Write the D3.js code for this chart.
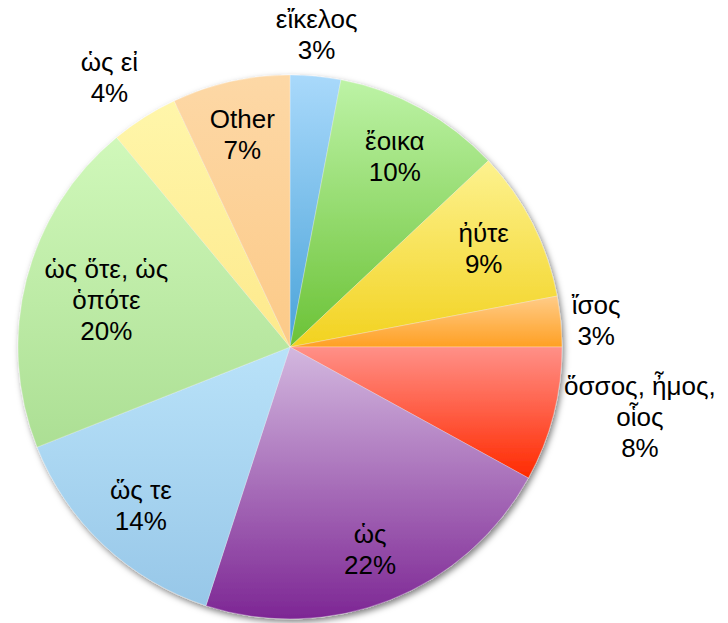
<!DOCTYPE html>
<html>
<head>
<meta charset="utf-8">
<script src="https://cdn.jsdelivr.net/npm/d3@7/dist/d3.min.js"></script>
<style>
  html, body { margin: 0; padding: 0; background: #fff; }
  svg { display: block; }
</style>
</head>
<body>
<svg id="chart" width="728" height="623"></svg>
<script>
// ---- data ----
const categories = ["εἴκελος", "ἔοικα", "ἠύτε", "ἴσος", "ὅσσος, ἦμος, οἷος",
                    "ὡς", "ὥς τε", "ὡς ὅτε, ὡς ὁπότε", "ὡς εἰ", "Other"];
const values = [3, 10, 9, 3, 8, 22, 14, 20, 4, 7];
const colorsTop = ["#a9d9fb", "#bdf3a6", "#fdf28f", "#ffcc88", "#ff9088",
                   "#d3b8df", "#b9e2f9", "#d0f8ba", "#fff6aa", "#fdd8a6"];
const colorsBottom = ["#4aa3d9", "#6bc236", "#f2d21f", "#ffa024", "#ff2a00",
                      "#7d2694", "#97c7e8", "#acdf94", "#fde98c", "#fcca88"];
const outsideLabels = ["εἴκελος", "ἴσος", "ὅσσος, ἦμος, οἷος", "ὡς εἰ"];

// ---- layout ----
const W = 728, H = 623;
const cx = 290, cy = 347, R = 272;
const fontSize = 26, lineH = 31;

const data = categories.map((c, i) => ({ name: c, value: values[i], i }));
const svg = d3.select("#chart");
const defs = svg.append("defs");

const shadow = defs.append("filter").attr("id", "shadow")
  .attr("x", "-10%").attr("y", "-10%").attr("width", "120%").attr("height", "120%");
shadow.append("feDropShadow").attr("dx", 2).attr("dy", 3)
  .attr("stdDeviation", 3).attr("flood-color", "#000").attr("flood-opacity", 0.5);

data.forEach(d => {
  const g = defs.append("linearGradient").attr("id", "grad" + d.i)
    .attr("x1", 0).attr("y1", 0).attr("x2", 0).attr("y2", 1);
  g.append("stop").attr("offset", "0%").attr("stop-color", colorsTop[d.i]);
  g.append("stop").attr("offset", "100%").attr("stop-color", colorsBottom[d.i]);
});

const pie = d3.pie().sort(null).value(d => d.value);
const arcs = pie(data);
const arc = d3.arc().innerRadius(0).outerRadius(R);

const gPie = svg.append("g").attr("transform", `translate(${cx},${cy})`);
const gSlices = gPie.append("g").attr("filter", "url(#shadow)");
gSlices.selectAll("path").data(arcs).join("path")
  .attr("d", arc)
  .attr("fill", d => `url(#grad${d.data.i})`)
  .attr("stroke", "rgba(255,255,255,0.45)")
  .attr("stroke-width", 0.6);

// ---- labels ----
const gLab = gPie.append("g")
  .attr("font-family", "'Liberation Sans', Arial, 'DejaVu Sans', sans-serif")
  .attr("font-size", fontSize)
  .attr("fill", "#000")
  .attr("text-anchor", "middle");

function wrap(str, maxW, measure) {
  const words = str.split(" ");
  const lines = [];
  let cur = "";
  words.forEach(w => {
    const t = cur ? cur + " " + w : w;
    if (cur && measure(t) > maxW) { lines.push(cur); cur = w; }
    else cur = t;
  });
  if (cur) lines.push(cur);
  return lines;
}

const measurer = gLab.append("text").attr("visibility", "hidden");
const measure = s => { measurer.text(s); return measurer.node().getComputedTextLength(); };

arcs.forEach(a => {
  const lines = wrap(a.data.name, 172, measure).concat([a.data.value + "%"]);
  const t = gLab.append("text");
  lines.forEach((ln, k) => {
    t.append("tspan").attr("x", 0).attr("dy", k === 0 ? 0 : lineH).text(ln);
  });
  const bb = t.node().getBBox();
  const w = bb.width, h = bb.height;
  const bcx = bb.x + w / 2, bcy = bb.y + h / 2; // bbox centre relative to text origin
  const ang = (a.startAngle + a.endAngle) / 2;
  const s = Math.sin(ang), c = -Math.cos(ang);
  let px, py;
  if (outsideLabels.includes(a.data.name)) {
    const d0 = R + 11;
    const fx = Math.abs(s) > 0.5 ? Math.sign(s) : 0;
    const fy = Math.abs(c) > 0.5 ? Math.sign(c) : 0;
    px = d0 * s + fx * w / 2;
    py = d0 * c + fy * h / 2;
  } else {
    let d = 0.8 * R;
    const fits = dd => {
      const x0 = dd * s, y0 = dd * c;
      const hw = w / 2, hh = h / 2 - 3;
      return [[-1,-1],[1,-1],[-1,1],[1,1]].every(([u,v]) =>
        Math.hypot(x0 + u * hw, y0 + v * hh) <= R - 10);
    };
    while (d > 0.4 * R && !fits(d)) d -= 1;
    px = d * s; py = d * c;
  }
  t.attr("transform", `translate(${px - bcx},${py - bcy})`);
});
measurer.remove();
</script>
</body>
</html>
